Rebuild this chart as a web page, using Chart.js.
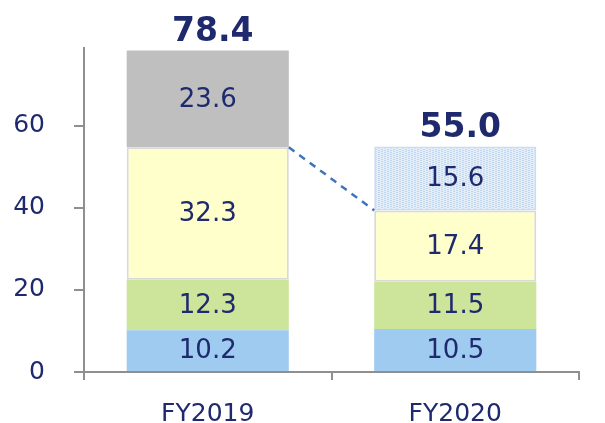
<!DOCTYPE html>
<html>
<head>
<meta charset="utf-8">
<script src="https://cdn.jsdelivr.net/npm/chart.js@4.4.1/dist/chart.umd.min.js"></script>
<style>
  html, body { margin: 0; padding: 0; background: #fff; }
  #wrap { position: relative; width: 605px; height: 423px; }
</style>
</head>
<body>
<div id="wrap"><canvas id="StackChart"></canvas></div>
<script>
const categories = ["FY2019", "FY2020"];
const segBlue = [10.2, 10.5];
const segGreen = [12.3, 11.5];
const segYellow = [32.3, 17.4];
const segTop = [23.6, 15.6];
const totals = [78.4, 55.0];
const yTicks = [0, 20, 40, 60];

const navy = "#1f2a6e";
const axisGray = "#8f8f8f";
const font = "'DejaVu Sans', Verdana, sans-serif";

// dotted light-blue fill for the FY2020 top segment
function makePattern() {
  const c = document.createElement("canvas");
  c.width = 6;
  c.height = 4;
  const g = c.getContext("2d");
  g.fillStyle = "#e4eef9";
  g.fillRect(0, 0, 6, 4);
  g.fillStyle = "#c0d6ef";
  g.fillRect(0, 0, 2, 1);
  g.fillRect(0, 2, 2, 1);
  g.fillRect(3, 1, 2, 1);
  g.fillRect(3, 3, 2, 1);
  return g.createPattern(c, "repeat");
}

const labelPlugin = {
  id: "segLabels",
  afterDatasetsDraw(chart) {
    const ctx = chart.ctx;
    const y = chart.scales.y;
    ctx.save();

    // dashed connector between the yellow tops
    const yMeta = chart.getDatasetMeta(2);
    const b0 = yMeta.data[0];
    const b1 = yMeta.data[1];
    ctx.strokeStyle = "#3f74bd";
    ctx.lineWidth = 2.5;
    ctx.setLineDash([7, 6]);
    ctx.beginPath();
    ctx.moveTo(b0.x + b0.width / 2, b0.y);
    ctx.lineTo(b1.x - b1.width / 2, b1.y);
    ctx.stroke();
    ctx.setLineDash([]);

    // values inside segments
    ctx.fillStyle = navy;
    ctx.textAlign = "center";
    ctx.textBaseline = "middle";
    ctx.font = "26px " + font;
    chart.data.datasets.forEach((ds, i) => {
      const meta = chart.getDatasetMeta(i);
      meta.data.forEach((bar, j) => {
        const mid = (bar.y + bar.base) / 2;
        ctx.fillText(ds.data[j].toFixed(1), bar.x, mid + 1);
      });
    });

    // totals above bars
    ctx.font = "bold 33px " + font;
    ctx.textBaseline = "alphabetic";
    const topMeta = chart.getDatasetMeta(3);
    totals.forEach((t, j) => {
      ctx.fillText(t.toFixed(1), topMeta.data[j].x + 5, y.getPixelForValue(t) - 9);
    });
    ctx.restore();
  },
};

const data = {
  labels: categories,
  datasets: [
    { label: "a", data: segBlue, backgroundColor: "#9ecbef", borderWidth: 0 },
    { label: "b", data: segGreen, backgroundColor: "#cde59b", borderWidth: 0 },
    {
      label: "c",
      data: segYellow,
      backgroundColor: "#ffffcc",
      borderColor: "#d9d9d9",
      borderWidth: 2,
      borderSkipped: false,
    },
    {
      label: "d",
      data: segTop,
      backgroundColor: ["#bfbfbf", makePattern()],
      borderColor: ["#bfbfbf", "#c9ddf2"],
      borderWidth: [0, 2],
      borderSkipped: false,
    },
  ],
};

new Chart(document.getElementById("StackChart"), {
  type: "bar",
  data: data,
  plugins: [labelPlugin],
  options: {
    responsive: true,
    maintainAspectRatio: false,
    animation: false,
    layout: { padding: { top: 48, right: 26, left: 0, bottom: 0 } },
    datasets: { bar: { categoryPercentage: 1, barPercentage: 0.655 } },
    plugins: { legend: { display: false }, tooltip: { enabled: false } },
    scales: {
      x: {
        stacked: true,
        afterFit: (s) => { s.height = 51; },
        border: { color: axisGray, width: 2 },
        grid: {
          offset: true,
          drawOnChartArea: false,
          drawTicks: true,
          tickLength: 8,
          color: axisGray,
          lineWidth: 2,
        },
        ticks: { color: navy, font: { family: font, size: 25 }, padding: 19 },
      },
      y: {
        stacked: true,
        min: 0,
        max: 79,
        afterFit: (s) => { s.width = 84; },
        afterBuildTicks: (s) => { s.ticks = yTicks.map((v) => ({ value: v })); },
        border: { color: axisGray, width: 2 },
        grid: {
          drawOnChartArea: false,
          drawTicks: true,
          tickLength: 10,
          color: axisGray,
          lineWidth: 2,
        },
        ticks: { color: navy, font: { family: font, size: 25 }, padding: 29 },
      },
    },
  },
});
</script>
</body>
</html>
